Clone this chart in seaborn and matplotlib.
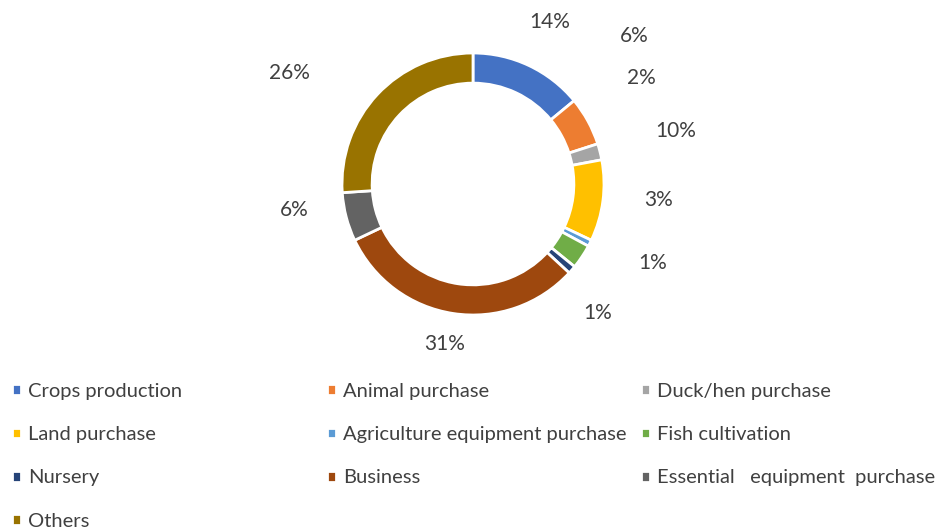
import matplotlib.pyplot as plt
import numpy as np
import seaborn as sns

# donut data
categories = ["Crops production", "Animal purchase", "Duck/hen purchase",
              "Land purchase", "Agriculture equipment purchase", "Fish cultivation",
              "Nursery", "Business", "Essential   equipment  purchase", "Others"]
shares = [14, 6, 2, 10, 0.8, 3, 1, 31, 6, 26]
pct_labels = ["14%", "6%", "2%", "10%", "3%", "1%", "1%", "31%", "6%", "26%"]
colors = ["#4472C4", "#ED7D31", "#A5A5A5", "#FFC000", "#5B9BD5",
          "#70AD47", "#264478", "#9E480E", "#636363", "#997300"]

sns.set_theme(style="white")
plt.rcParams["font.family"] = ["Lato", "DejaVu Sans"]
text_col = "#404040"

fig = plt.figure(figsize=(9.42, 5.30), dpi=100)
ax = fig.add_axes([342 / 942, 1 - 315 / 530, 262 / 942, 262 / 530])

wedges, _ = ax.pie(shares, colors=colors, startangle=90, counterclock=False,
                   wedgeprops=dict(width=0.23, edgecolor="white", linewidth=2.0))
ax.set_xlim(-1, 1)
ax.set_ylim(-1, 1)
ax.set_aspect("auto")

# labels sit outside the ring, spread apart a bit like Excel does
label_shift = [0, -14, -18, -22, -22, -10, 5, 1.5, 6.5, -12]
label_r = [1.37, 1.67, 1.52, 1.6, 1.42, 1.5, 1.37, 1.24, 1.38, 1.64]
cum = np.cumsum(shares)
mids = (cum - np.array(shares) / 2) / cum[-1] * 360
for i, lab in enumerate(pct_labels):
    th = np.deg2rad(mids[i] + label_shift[i])
    ax.text(label_r[i] * np.sin(th), label_r[i] * np.cos(th), lab,
            ha="center", va="center", fontsize=15, color=text_col)

# legend in three equal columns, entries ordered row by row
col_x = [12 / 942, 327 / 942, 641 / 942]
for c in range(3):
    idx = list(range(c, len(categories), 3))
    leg = fig.legend([wedges[i] for i in idx], [categories[i] for i in idx],
                     loc="upper left", bbox_to_anchor=(col_x[c], 1 - 383 / 530),
                     frameon=False, fontsize=14.5, handlelength=0.45, handleheight=0.45,
                     handletextpad=0.35, labelspacing=1.3, borderpad=0, borderaxespad=0)
    for t in leg.get_texts():
        t.set_color(text_col)

fig.savefig("out.png", dpi=100)
